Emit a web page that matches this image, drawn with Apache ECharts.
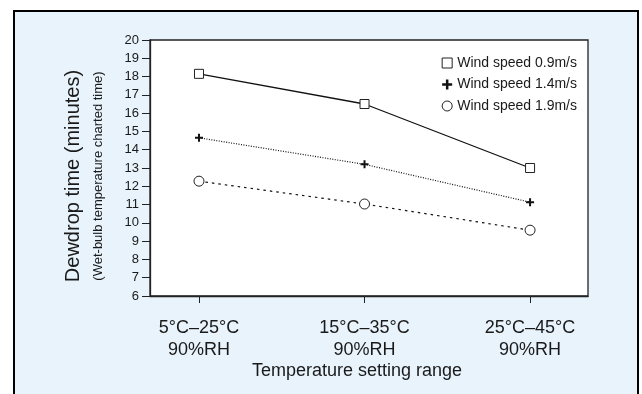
<!DOCTYPE html>
<html>
<head>
<meta charset="utf-8">
<script src="https://cdn.jsdelivr.net/npm/echarts@6.0.0/dist/echarts.min.js"></script>
<style>
  html, body { margin: 0; padding: 0; background: #fff; }
  #chart { width: 642px; height: 394px; }
</style>
</head>
<body>
<div id="chart"></div>
<script>
// 数据
const categories = ['5°C–25°C\n90%RH', '15°C–35°C\n90%RH', '25°C–45°C\n90%RH']
const seriesNames = ['Wind speed 0.9m/s', 'Wind speed 1.4m/s', 'Wind speed 1.9m/s']
const speed09 = [18.15, 16.5, 13.0]
const speed14 = [14.65, 13.2, 11.13]
const speed19 = [12.28, 11.03, 9.6]

const plusPath = 'path://M3,0H5V3H8V5H5V8H3V5H0V3H3Z'
const font = 'Arial, "Liberation Sans", sans-serif'

const myChart = echarts.init(document.getElementById('chart'))

function toPoints(arr) {
  return arr.map((v, i) => [i, v])
}

const option = {
  animation: false,
  textStyle: { fontFamily: font, color: '#1a1a1a' },
  graphic: [
    {
      type: 'rect',
      shape: { x: 14, y: 11, width: 624, height: 400 },
      style: { fill: '#e8f3fc', stroke: '#000', lineWidth: 2 },
      z: -10
    }
  ],
  grid: {
    left: 150,
    right: 54,
    top: 40,
    bottom: 98,
    show: true,
    backgroundColor: '#fff',
    borderColor: '#222',
    borderWidth: 1.3
  },
  legend: {
    orient: 'vertical',
    align: 'left',
    right: 65,
    top: 56,
    itemWidth: 10,
    itemHeight: 10,
    itemGap: 7.5,
    padding: 0,
    textStyle: { fontSize: 14, color: '#1a1a1a', fontFamily: font },
    data: [
      { name: seriesNames[0], icon: 'rect', itemStyle: { color: '#fff', borderColor: '#222', borderWidth: 1 } },
      { name: seriesNames[1], icon: plusPath, itemStyle: { color: '#111', borderWidth: 0 } },
      { name: seriesNames[2], icon: 'circle', itemStyle: { color: '#fff', borderColor: '#222', borderWidth: 1 } }
    ]
  },
  xAxis: {
    type: 'value',
    min: -0.296,
    max: 2.35,
    name: 'Temperature setting range',
    nameLocation: 'middle',
    nameGap: 66,
    nameMoveOverlap: false,
    nameTextStyle: { fontSize: 18, color: '#1a1a1a', padding: [0, 24, 0, 0] },
    splitLine: { show: false },
    axisLine: { onZero: false, lineStyle: { color: '#222', width: 1.3 } },
    axisTick: {
      customValues: [0, 1, 2],
      length: 7,
      lineStyle: { color: '#222' }
    },
    axisLabel: {
      customValues: [0, 1, 2],
      fontSize: 18,
      lineHeight: 22,
      margin: 21,
      color: '#1a1a1a',
      formatter(val) {
        return categories[Math.round(val)]
      }
    }
  },
  yAxis: {
    type: 'value',
    min: 6,
    max: 20,
    interval: 1,
    name: '{a|Dewdrop time (minutes)}\n{b|(Wet-bulb temperature charted time)}',
    nameLocation: 'middle',
    nameRotate: 90,
    nameGap: 42,
    nameMoveOverlap: false,
    nameTextStyle: {
      padding: [0, 16, 0, 0],
      rich: {
        a: { fontSize: 20, lineHeight: 30, color: '#1a1a1a', fontFamily: font },
        b: { fontSize: 13, lineHeight: 20, color: '#1a1a1a', fontFamily: font }
      }
    },
    splitLine: { show: false },
    axisLine: { show: true, onZero: false, lineStyle: { color: '#222', width: 1.3 } },
    axisTick: { show: true, length: 8, lineStyle: { color: '#222' } },
    axisLabel: { fontSize: 13, margin: 11, color: '#1a1a1a' }
  },
  series: [
    {
      name: seriesNames[0],
      type: 'line',
      data: toPoints(speed09),
      symbol: 'rect',
      symbolSize: 9,
      lineStyle: { color: '#111', width: 1.3, type: 'solid' },
      itemStyle: { color: '#fff', borderColor: '#222', borderWidth: 1 }
    },
    {
      name: seriesNames[1],
      type: 'line',
      data: toPoints(speed14),
      symbol: plusPath,
      symbolSize: 8,
      lineStyle: { color: '#111', width: 1.2, type: [1, 1.5] },
      itemStyle: { color: '#111', borderWidth: 0 }
    },
    {
      name: seriesNames[2],
      type: 'line',
      data: toPoints(speed19),
      symbol: 'circle',
      symbolSize: 10,
      lineStyle: { color: '#111', width: 1.2, type: [2.5, 4] },
      itemStyle: { color: '#fff', borderColor: '#222', borderWidth: 1 }
    }
  ]
}

myChart.setOption(option)
window.addEventListener('resize', () => {
  myChart && myChart.resize()
})
</script>
</body>
</html>
